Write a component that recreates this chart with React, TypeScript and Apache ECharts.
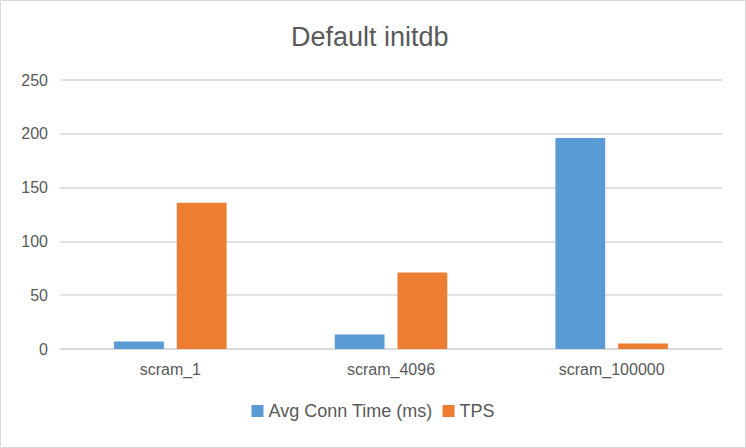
import React, { useEffect, useRef } from "react";
import * as echarts from "echarts";

const categories = ["scram_1", "scram_4096", "scram_100000"];
const avgConnTime = [7, 13.5, 196];
const tps = [136, 71, 5];
const seriesNames = ["Avg Conn Time (ms)", "TPS"];

export default function App() {
  const ref = useRef<HTMLDivElement>(null);
  useEffect(() => {
    const chart = echarts.init(ref.current!, null, { renderer: "svg" });
    const font = "'Liberation Sans', Arial, Helvetica, sans-serif";
    chart.setOption({
      animation: false,
      backgroundColor: "#ffffff",
      textStyle: { fontFamily: font },
      title: {
        text: "Default initdb",
        left: 286,
        top: 18,
        textStyle: { fontSize: 27, fontWeight: "normal", color: "#595959", fontFamily: font },
      },
      graphic: [
        {
          type: "rect",
          shape: { x: 0.5, y: 0.5, width: 745, height: 447 },
          style: { fill: "none", stroke: "#d9d9d9", lineWidth: 1 },
          silent: true,
        },
      ],
      legend: {
        bottom: 23,
        left: "center",
        itemWidth: 12,
        itemHeight: 12,
        itemGap: 10,
        icon: "rect",
        textStyle: { fontSize: 18, color: "#595959", fontFamily: font },
        data: seriesNames,
      },
      grid: { left: 60, right: 24, top: 80, bottom: 99, containLabel: false },
      xAxis: {
        type: "category",
        data: categories,
        axisTick: { show: false },
        axisLine: { lineStyle: { color: "#d9d9d9", width: 1.5 } },
        axisLabel: { fontSize: 16, color: "#595959", margin: 12, fontFamily: font },
      },
      yAxis: {
        type: "value",
        min: 0,
        max: 250,
        interval: 50,
        axisLine: { show: false },
        axisTick: { show: false },
        splitLine: { lineStyle: { color: "#d9d9d9", width: 1.5 } },
        axisLabel: { fontSize: 16, color: "#595959", margin: 12, fontFamily: font },
      },
      series: [
        {
          name: seriesNames[0],
          type: "bar",
          data: avgConnTime,
          itemStyle: { color: "#5B9BD5" },
          barGap: "26%",
          barCategoryGap: "49%",
        },
        {
          name: seriesNames[1],
          type: "bar",
          data: tps,
          itemStyle: { color: "#ED7D31" },
          barGap: "26%",
          barCategoryGap: "49%",
        },
      ],
    });
    return () => chart.dispose();
  }, []);
  return (
    <div
      ref={ref}
      style={{ position: "fixed", left: 0, top: 0, width: 746, height: 448 }}
    />
  );
}
